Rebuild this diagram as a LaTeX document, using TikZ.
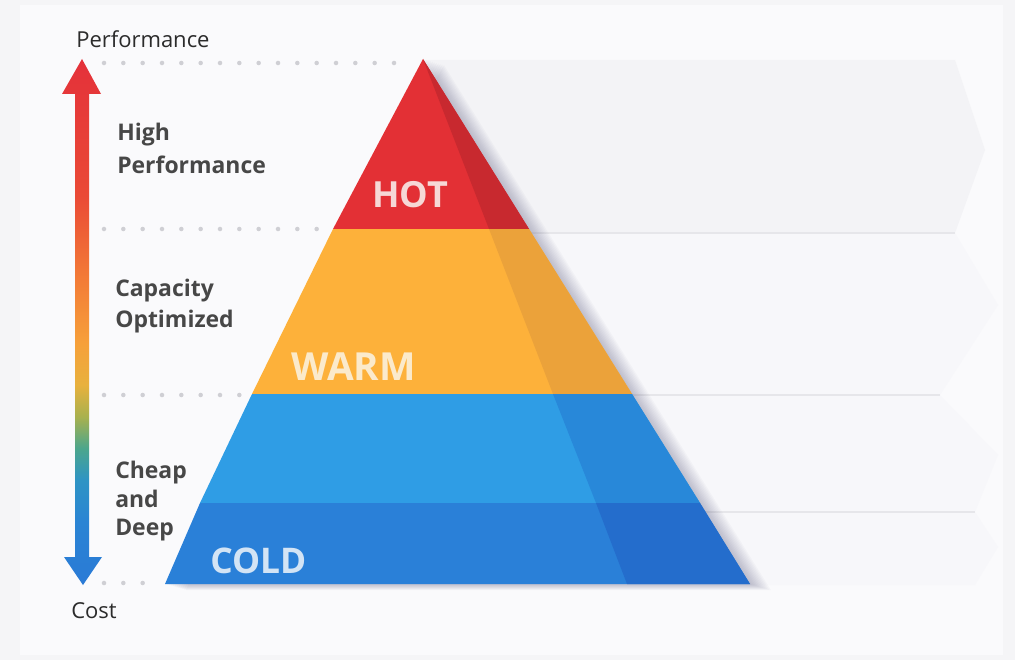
\documentclass[tikz,border=0pt]{standalone}
\usepackage{fontspec}
\setmainfont{Open Sans}
\definecolor{bgout}{HTML}{F5F5F7}
\definecolor{bgin}{HTML}{FAFAFC}
\definecolor{rowA}{HTML}{F3F3F6}
\definecolor{rowB}{HTML}{F7F7FA}
\definecolor{sepc}{HTML}{E6E6EA}
\definecolor{dotc}{HTML}{CFCFD4}
\definecolor{hotL}{HTML}{E33035}
\definecolor{hotD}{HTML}{C8292F}
\definecolor{warmL}{HTML}{FDB13A}
\definecolor{warmD}{HTML}{EBA23A}
\definecolor{coldAL}{HTML}{2F9DE5}
\definecolor{coldAD}{HTML}{2888D9}
\definecolor{coldBL}{HTML}{2A80D8}
\definecolor{coldBD}{HTML}{246DCC}
\definecolor{hotT}{HTML}{F6D8D6}
\definecolor{warmT}{HTML}{FBEACB}
\definecolor{coldT}{HTML}{D3E4F5}
\definecolor{labc}{HTML}{474747}
\definecolor{axc}{HTML}{2B2B2B}
\definecolor{gA}{HTML}{2A7AD6}
\definecolor{gB}{HTML}{2A84D4}
\definecolor{gC}{HTML}{2E94C4}
\definecolor{gD}{HTML}{4CA68C}
\definecolor{gE}{HTML}{A9B14E}
\definecolor{gF}{HTML}{E8B13E}
\definecolor{gG}{HTML}{F6A03A}
\definecolor{gH}{HTML}{F37C37}
\definecolor{gI}{HTML}{EA4A36}
\definecolor{gJ}{HTML}{E4313A}
\pgfdeclareverticalshading{perfcost}{100bp}{color(0bp)=(gA); color(25bp)=(gA); color(31bp)=(gB); color(35bp)=(gC); color(38bp)=(gD); color(41bp)=(gE); color(44bp)=(gF); color(48bp)=(gG); color(54bp)=(gH); color(62bp)=(gI); color(75bp)=(gJ); color(100bp)=(gJ)}
\tikzset{
  axlabel/.style={font=\fontsize{16.5}{20}\selectfont, text=axc, inner sep=0pt, anchor=base west},
  sidelabel/.style={font=\fontsize{17.2}{20}\selectfont\bfseries, text=labc, inner sep=0pt, anchor=base west},
  tierlabel/.style={font=\bfseries, inner sep=0pt, anchor=base west},
  dotrow/.style={dotc, line width=3.4pt, line cap=round, dash pattern=on 0pt off 14.5pt},
  sepline/.style={sepc, line width=1.1pt}
}
\begin{document}
\begin{tikzpicture}[x=0.75pt,y=-0.75pt]
\useasboundingbox (0,0) rectangle (1015,660);
% background
\fill[bgout] (0,0) rectangle (1015,660);
\fill[bgin] (20,5) rectangle (1003,655);
% right-hand rows
\fill[rowA] (420,60) -- (955,60) -- (985,150) -- (955,233) -- (420,233) -- cycle;
\fill[rowB] (420,233) -- (955,233) -- (998,305) -- (940,395) -- (420,395) -- cycle;
\fill[rowB] (420,395) -- (940,395) -- (998,455) -- (975,512) -- (420,512) -- cycle;
\fill[rowB] (420,512) -- (975,512) -- (998,547) -- (975,585) -- (420,585) -- cycle;
\coordinate (s1a) at (520,233); \coordinate (s1b) at (955,233);
\coordinate (s2a) at (620,395); \coordinate (s2b) at (940,395);
\coordinate (s3a) at (690,512); \coordinate (s3b) at (975,512);
\draw[sepline] (s1a) -- (s1b);
\draw[sepline] (s2a) -- (s2b);
\draw[sepline] (s3a) -- (s3b);
% shadow of the pyramid
\foreach \i in {1,...,11}{
  \fill[black!60!blue!40!gray, opacity=0.03, shift={(1.9*\i,0.55*\i)}] (423,59) -- (750,584) -- (165,584) -- (200,503) -- (252,394) -- (333,229) -- cycle;
}
% pyramid layers (light part)
\fill[hotL] (423,59) -- (529,229) -- (333,229) -- cycle;
\fill[warmL] (333,229) -- (529,229) -- (632,394) -- (252,394) -- cycle;
\fill[coldAL] (252,394) -- (632,394) -- (700,503) -- (200,503) -- cycle;
\fill[coldBL] (200,503) -- (700,503) -- (750,584) -- (165,584) -- cycle;
% pyramid layers (dark part)
\fill[hotD] (423,59) -- (529,229) -- (489,229) -- cycle;
\fill[warmD] (489,229) -- (529,229) -- (632,394) -- (553,394) -- cycle;
\fill[coldAD] (553,394) -- (632,394) -- (700,503) -- (596,503) -- cycle;
\fill[coldBD] (596,503) -- (700,503) -- (750,584) -- (627,584) -- cycle;
% dotted guide lines
\coordinate (d1a) at (104,63);  \coordinate (d1b) at (410,63);
\coordinate (d2a) at (104,229); \coordinate (d2b) at (325,229);
\coordinate (d3a) at (104,395); \coordinate (d3b) at (243,395);
\coordinate (d4a) at (104,583); \coordinate (d4b) at (158,583);
\draw[dotrow] (d1a) -- (d1b);
\draw[dotrow] (d2a) -- (d2b);
\draw[dotrow] (d3a) -- (d3b);
\draw[dotrow] (d4a) -- (d4b);
% gradient double arrow
\shade[shading=perfcost] (82,59) -- (101,94) -- (89,94) -- (89,557) -- (102,557) -- (83,585) -- (64,557) -- (75,557) -- (75,94) -- (62,94) -- cycle;
% axis labels
\node[axlabel] (perf) at (76,48) {Performance};
\node[axlabel] (cost) at (71,618) {Cost};
% side labels
\node[sidelabel] (hp1) at (117,141) {High};
\node[sidelabel] (hp2) at (117,174) {Performance};
\node[sidelabel] (co1) at (115,296) {Capacity};
\node[sidelabel] (co2) at (115,327) {Optimized};
\node[sidelabel] (cd1) at (115,478) {Cheap};
\node[sidelabel] (cd2) at (115,507) {and};
\node[sidelabel] (cd3) at (115,535) {Deep};
% tier labels
\node[tierlabel, text=hotT, font=\fontsize{27}{30}\selectfont\bfseries] (hot) at (372,207) {HOT};
\node[tierlabel, text=warmT, font=\fontsize{29}{32}\selectfont\bfseries] (warm) at (291,380) {WARM};
\node[tierlabel, text=coldT, font=\fontsize{26.5}{30}\selectfont\bfseries] (cold) at (210,573) {COLD};
\end{tikzpicture}
\end{document}
